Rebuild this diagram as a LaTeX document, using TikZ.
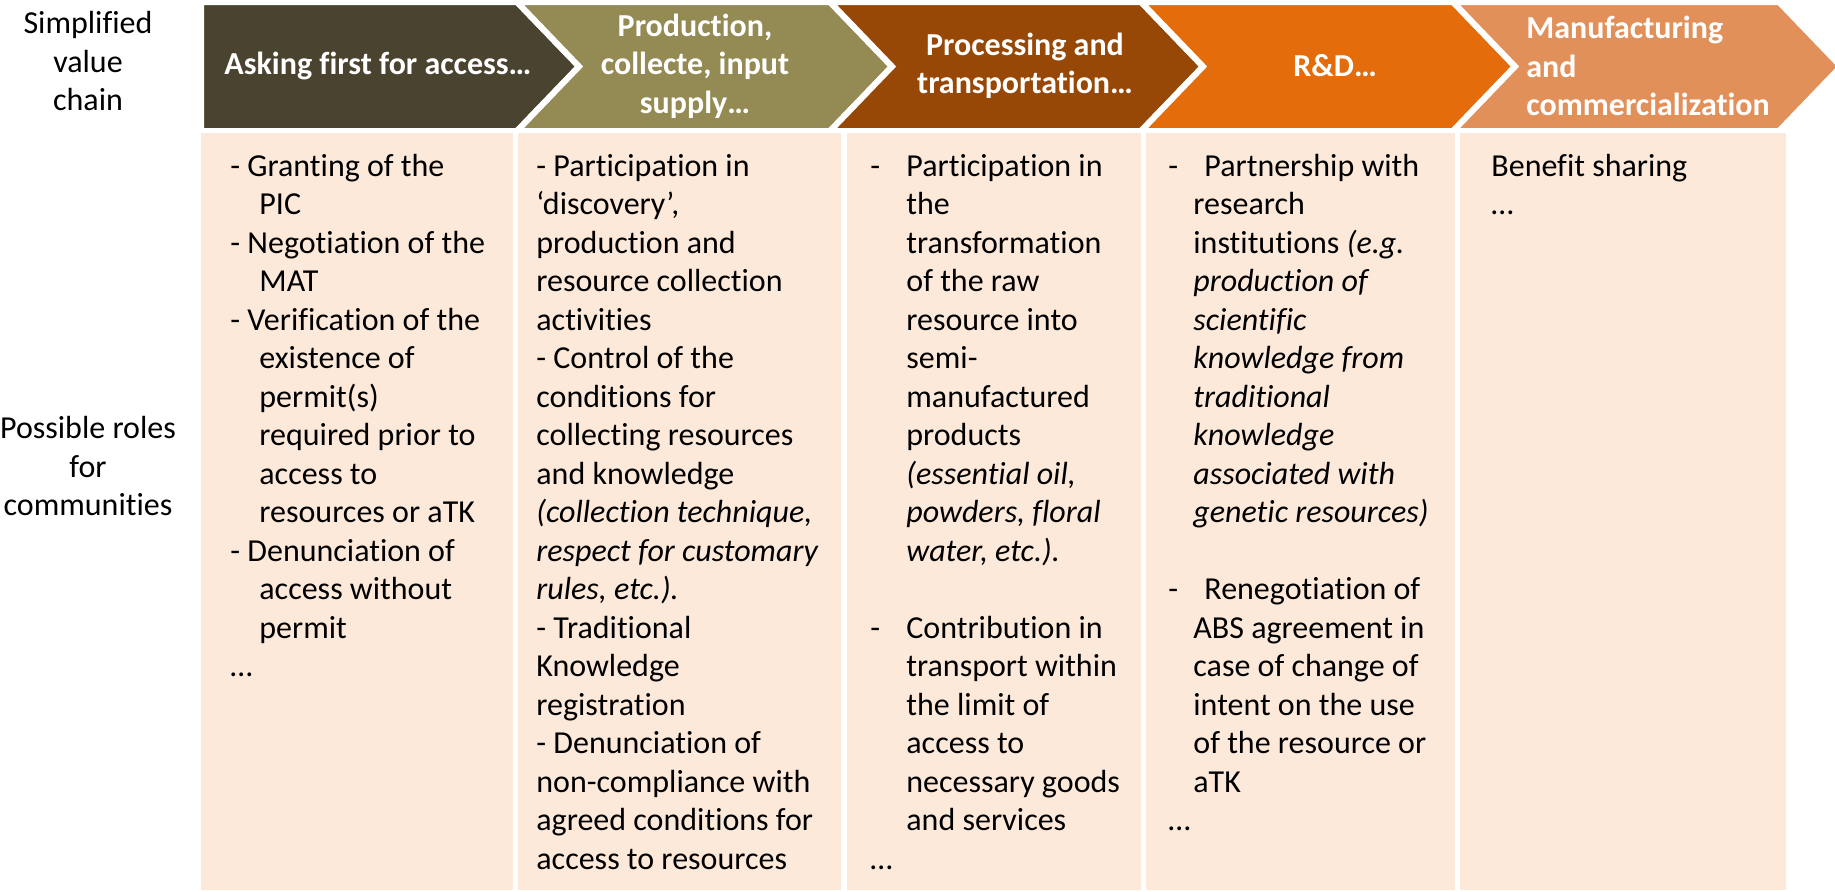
\documentclass[tikz,border=0pt]{standalone}
\usepackage{fontspec}
\setmainfont{Carlito}[Ligatures={TeX,NoCommon,NoContextual}]
\usetikzlibrary{positioning}
\definecolor{chevA}{HTML}{4A4330}
\definecolor{chevB}{HTML}{948A54}
\definecolor{chevC}{HTML}{974706}
\definecolor{chevD}{HTML}{E46C0A}
\definecolor{chevE}{HTML}{E2905A}
\definecolor{roleFill}{HTML}{FDE9D9}
\newcommand{\dsh}[1]{\makebox[#1][l]{-}}
\newcommand{\hng}[1]{\hspace*{#1}}

\begin{document}
\begin{tikzpicture}[x=0.5pt, y=-0.5pt,
    txt/.style={font=\fontsize{16}{19.25}\selectfont, inner sep=0pt},
    head/.style={txt, font=\fontsize{16}{19.25}\selectfont\bfseries, text=white, align=center},
    roles/.style={txt, anchor=north west, align=left},
    chev/.style={draw=white, line width=3pt, line join=miter}]
    \useasboundingbox (0,0) rectangle (1835,891);
    \filldraw[chev, fill=chevA] (201,2) -- (517,2) -- (579,66.5) -- (517,131) -- (201,131) -- cycle;
    \filldraw[chev, fill=chevB] (517,2) -- (830,2) -- (892,66.5) -- (830,131) -- (517,131) -- (579,66.5) -- cycle;
    \filldraw[chev, fill=chevC] (830,2) -- (1141,2) -- (1203,66.5) -- (1141,131) -- (830,131) -- (892,66.5) -- cycle;
    \filldraw[chev, fill=chevD] (1141,2) -- (1453,2) -- (1515,66.5) -- (1453,131) -- (1141,131) -- (1203,66.5) -- cycle;
    \filldraw[chev, fill=chevE] (1453,2) -- (1779,2) -- (1841,66.5) -- (1779,131) -- (1453,131) -- (1515,66.5) -- cycle;
    \foreach \xa/\xb in {201/513, 518/841, 847/1141, 1146/1455, 1460/1786}
        \fill[roleFill] (\xa,133) rectangle (\xb,890);
    \node[txt, align=center] (chain) at (88,61) {Simplified\\value\\chain};
    \node[txt, align=center] (roles) at (88,466) {Possible roles\\for\\communities};
    \node[head] (ask) at (378,66) {Asking first for access…};
    \node[head] (prod) at (695,66) {Production,\\collecte, input\\supply…};
    \node[head] (proc) at (1025,66) {Processing and\\transportation…};
    \node[head] (rd) at (1335,66) {R\&D…};
    \node[head, align=left, anchor=west] (manu) at (1526,66) {Manufacturing\\and\\commercialization};
    \node[roles] (pic) at (230,149) {\strut\dsh{8.5pt}Granting of the\\
        \hng{14.5pt}PIC\\
        \dsh{8.5pt}Negotiation of the\\
        \hng{14.5pt}MAT\\
        \dsh{8.5pt}Verification of the\\
        \hng{14.5pt}existence of\\
        \hng{14.5pt}permit(s)\\
        \hng{14.5pt}required prior to\\
        \hng{14.5pt}access to\\
        \hng{14.5pt}resources or aTK\\
        \dsh{8.5pt}Denunciation of\\
        \hng{14.5pt}access without\\
        \hng{14.5pt}permit\\
        …};
    \node[roles] (collect) at (536,149) {\strut - Participation in\\
        ‘discovery’,\\
        production and\\
        resource collection\\
        activities\\
        - Control of the\\
        conditions for\\
        collecting resources\\
        and knowledge\\
        \textit{(collection technique,}\\
        \textit{respect for customary}\\
        \textit{rules, etc.).}\\
        - Traditional\\
        Knowledge\\
        registration\\
        - Denunciation of\\
        non-compliance with\\
        agreed conditions for\\
        access to resources};
    \node[roles] (transform) at (870,149) {\strut\dsh{18pt}Participation in\\
        \hng{18pt}the\\
        \hng{18pt}transformation\\
        \hng{18pt}of the raw\\
        \hng{18pt}resource into\\
        \hng{18pt}semi-\\
        \hng{18pt}manufactured\\
        \hng{18pt}products\\
        \hng{18pt}\textit{(essential oil,}\\
        \hng{18pt}\textit{powders, floral}\\
        \hng{18pt}\textit{water, etc.).}\\[19.25pt]
        \dsh{18pt}Contribution in\\
        \hng{18pt}transport within\\
        \hng{18pt}the limit of\\
        \hng{18pt}access to\\
        \hng{18pt}necessary goods\\
        \hng{18pt}and services\\
        …};
    \node[roles] (research) at (1168,149) {\strut\dsh{18pt}Partnership with\\
        \hng{12.5pt}research\\
        \hng{12.5pt}institutions \textit{(e.g.}\\
        \hng{12.5pt}\textit{production of}\\
        \hng{12.5pt}\textit{scientific}\\
        \hng{12.5pt}\textit{knowledge from}\\
        \hng{12.5pt}\textit{traditional}\\
        \hng{12.5pt}\textit{knowledge}\\
        \hng{12.5pt}\textit{associated with}\\
        \hng{12.5pt}\textit{genetic resources)}\\[19.25pt]
        \dsh{18pt}Renegotiation of\\
        \hng{12.5pt}ABS agreement in\\
        \hng{12.5pt}case of change of\\
        \hng{12.5pt}intent on the use\\
        \hng{12.5pt}of the resource or\\
        \hng{12.5pt}aTK\\
        …};
    \node[roles] (benefit) at (1491,149) {\strut Benefit sharing\\
        …};
\end{tikzpicture}
\end{document}
